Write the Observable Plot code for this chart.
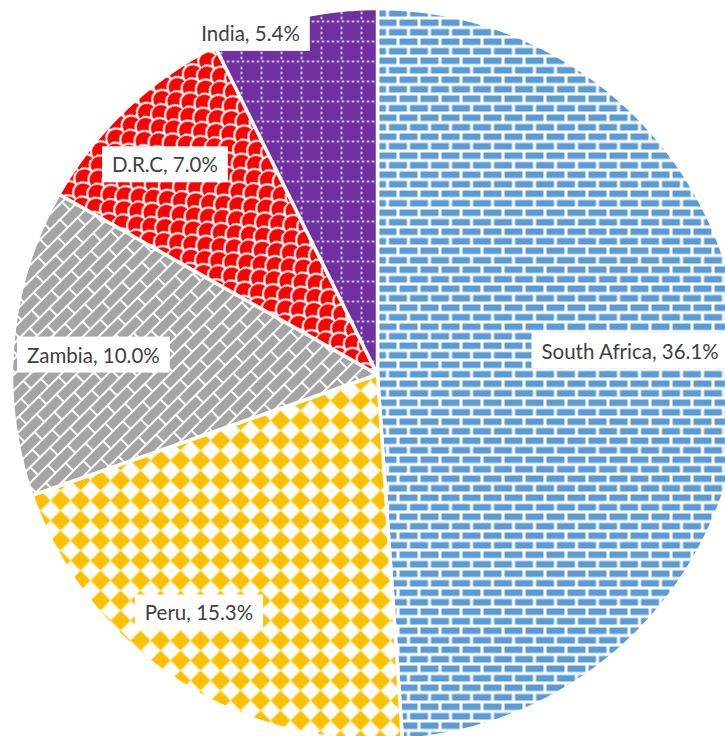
<!DOCTYPE html>
<html>
<head>
<meta charset="utf-8">
<script src="https://cdn.jsdelivr.net/npm/d3@7"></script>
<script src="https://cdn.jsdelivr.net/npm/@observablehq/plot@0.6"></script>
<style>
  html, body { margin: 0; padding: 0; background: #fff; overflow: hidden; }
</style>
</head>
<body>
<div id="chart"></div>
<script>
// ---- data ----
const countries = ["South Africa", "Peru", "Zambia", "D.R.C", "India"];
const shares = [36.1, 15.3, 10.0, 7.0, 5.4];

// ---- layout / style ----
const W = 725, H = 736;
const CX = 377, CY = 374, R = 366;
const colors = ["#5B9BD5", "#FFC000", "#A5A5A5", "#FF0000", "#7030A0"];
const labelRadius = [0.693, 0.816, 0.778, 0.814, 0.992];   // fraction of radius
const labelTurn = [-3.15, 3.3, -1.4, -2.1, -7.3];          // degrees off the slice's mid-angle

const rows = countries.map((c, i) => ({name: c, share: shares[i], label: `${c}, ${shares[i].toFixed(1)}%`}));
const arcs = d3.pie().sort(null).value(d => d.share)(rows);

function wedge(a) {
  const pts = [{x: 0, y: 0}];
  const n = Math.max(4, Math.ceil((a.endAngle - a.startAngle) / (Math.PI / 360)));
  for (let k = 0; k <= n; k++) {
    const t = a.startAngle + (a.endAngle - a.startAngle) * k / n;
    pts.push({x: Math.sin(t), y: Math.cos(t)});
  }
  return pts;
}

const labelRows = arcs.map((a, i) => {
  const mid = (a.startAngle + a.endAngle) / 2 + labelTurn[i] * Math.PI / 180;
  return {x: labelRadius[i] * Math.sin(mid), y: labelRadius[i] * Math.cos(mid), text: a.data.label};
});

const svg = Plot.plot({
  width: W,
  height: H,
  margin: 0,
  x: {domain: [-CX / R, (W - CX) / R], axis: null},
  y: {domain: [(CY - H) / R, CY / R], axis: null},
  marks: [
    ...arcs.map((a, i) => Plot.line(wedge(a), {
      x: "x", y: "y",
      fill: `url(#pat${i})`,
      stroke: "white",
      strokeWidth: 3.5,
      strokeLinejoin: "round",
      curve: "linear-closed"
    })),
    Plot.text(labelRows, {
      x: "x", y: "y", text: "text",
      fontSize: 20.5,
      fontFamily: "Lato, 'Open Sans', sans-serif",
      fill: "#404040",
      textAnchor: "middle"
    })
  ]
});
document.getElementById("chart").appendChild(svg);

// ---- fill patterns ----
const defs = d3.select(svg).insert("defs", ":first-child");
function pat(id, w, h, bg, transform) {
  const p = defs.append("pattern").attr("id", id)
    .attr("patternUnits", "userSpaceOnUse")
    .attr("width", w).attr("height", h);
  if (transform) p.attr("patternTransform", transform);
  p.append("rect").attr("width", w).attr("height", h).attr("fill", bg);
  return p;
}
// South Africa: horizontal bricks
{
  const p = pat("pat0", 21, 19, "white");
  [[0, 0], [-10.5, 9.5], [10.5, 9.5]].forEach(([x, y]) =>
    p.append("rect").attr("x", x).attr("y", y).attr("width", 18).attr("height", 6.5).attr("fill", colors[0]));
}
// Peru: diamonds
{
  const p = pat("pat1", 20, 20, colors[1]);
  p.append("polygon").attr("points", "10,0 20,10 10,20 0,10").attr("fill", "white");
}
// Zambia: diagonal bricks
{
  const p = pat("pat2", 28, 22, "white", "rotate(-45)");
  [[0, 0], [-14, 11], [14, 11]].forEach(([x, y]) =>
    p.append("rect").attr("x", x).attr("y", y).attr("width", 26).attr("height", 9).attr("fill", colors[2]));
}
// D.R.C: shingles
{
  const p = pat("pat3", 20, 20, colors[3], "rotate(-40)");
  p.append("path")
    .attr("d", "M0,10 A10,10 0 0 1 20,10 M-10,20 A10,10 0 0 1 10,20 M10,20 A10,10 0 0 1 30,20 M-10,0 A10,10 0 0 1 10,0 M10,0 A10,10 0 0 1 30,0")
    .attr("fill", "none").attr("stroke", "white").attr("stroke-width", 2);
}
// India: dotted grid
{
  const p = pat("pat4", 20, 20, colors[4]);
  for (let k = 0; k < 4; k++) {
    p.append("rect").attr("x", k * 5 + 1.5).attr("y", 0).attr("width", 2).attr("height", 2).attr("fill", "white").attr("opacity", 0.9);
    if (k > 0) p.append("rect").attr("x", 0).attr("y", k * 5 + 1.5).attr("width", 2).attr("height", 2).attr("fill", "white").attr("opacity", 0.9);
  }
}

// ---- label boxes ----
svg.querySelectorAll('g[aria-label="text"] text').forEach(t => {
  const b = t.getBBox();
  const r = document.createElementNS("http://www.w3.org/2000/svg", "rect");
  r.setAttribute("x", b.x - 10);
  r.setAttribute("y", b.y - 6);
  r.setAttribute("width", b.width + 20);
  r.setAttribute("height", b.height + 12);
  r.setAttribute("fill", "white");
  const tr = t.getAttribute("transform");
  if (tr) r.setAttribute("transform", tr);
  t.parentNode.insertBefore(r, t);
});
</script>
</body>
</html>
